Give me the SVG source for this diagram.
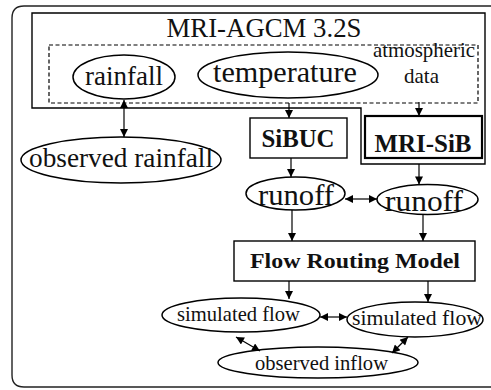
<svg xmlns="http://www.w3.org/2000/svg" width="491" height="390" viewBox="0 0 491 390" font-family="'Liberation Serif', 'Times New Roman', Times, serif">
  <defs>
    <marker id="ah" viewBox="0 0 10 10" refX="10" refY="5" markerWidth="9" markerHeight="8" markerUnits="userSpaceOnUse" orient="auto-start-reverse">
      <path d="M0,0 L10,5 L0,10 z" fill="#000"/>
    </marker>
    <style>
      text { font-family: 'Liberation Serif', 'Times New Roman', Times, serif; fill: #111; text-anchor: middle; }
      .b { font-weight: bold; }
      .node { fill: #fff; stroke: #000; stroke-width: 1.5; }
      .box { fill: #fff; stroke: #000; stroke-width: 1.4; }
      .edge { stroke: #000; stroke-width: 1.2; fill: none; marker-end: url(#ah); }
      .both { marker-start: url(#ah); }
    </style>
  </defs>

  <rect width="491" height="390" fill="#fff"/>

  <!-- outer frame -->
  <path d="M500,6 L24,6 Q12,6 12,18 L12,375 Q12,387 24,387 L500,387" fill="none" stroke="#222" stroke-width="1.4"/>

  <!-- MRI-AGCM 3.2S model domain with the MRI-SiB notch -->
  <g id="mri-agcm">
    <path d="M32,13 L485,13 L485,164 L361,164 L361,108 L32,108 Z" class="box"/>
    <text x="264" y="37" font-size="26.5" textLength="195" lengthAdjust="spacingAndGlyphs">MRI-AGCM 3.2S</text>
    <rect x="49" y="45" width="429" height="58" fill="none" stroke="#000" stroke-width="1.2" stroke-dasharray="4,2.5"/>
    <text x="424" y="57" font-size="21" textLength="102" lengthAdjust="spacingAndGlyphs">atmospheric</text>
    <text x="421.5" y="83" font-size="21">data</text>
  </g>

  <g id="rainfall">
    <ellipse cx="124" cy="77" rx="51" ry="22" class="node"/>
    <text x="124" y="84.5" font-size="27" textLength="78" lengthAdjust="spacingAndGlyphs">rainfall</text>
  </g>

  <g id="temperature">
    <ellipse cx="288" cy="75" rx="90" ry="23" class="node"/>
    <text x="285" y="82" font-size="29.5" textLength="144" lengthAdjust="spacingAndGlyphs">temperature</text>
  </g>

  <g id="observed-rainfall">
    <ellipse cx="121" cy="160" rx="100" ry="23" class="node"/>
    <text x="121" y="167" font-size="27.3" textLength="184" lengthAdjust="spacingAndGlyphs">observed rainfall</text>
  </g>

  <g id="sibuc">
    <rect x="250" y="118" width="97" height="40" class="box"/>
    <text x="298" y="147" font-size="24.5" class="b" textLength="73" lengthAdjust="spacingAndGlyphs">SiBUC</text>
  </g>

  <g id="mri-sib">
    <rect x="365" y="116" width="117" height="42" fill="#fff" stroke="#000" stroke-width="2.2"/>
    <text x="423" y="152" font-size="25" class="b" textLength="97" lengthAdjust="spacingAndGlyphs">MRI-SiB</text>
  </g>

  <g id="runoff-sibuc">
    <ellipse cx="295.5" cy="193.5" rx="49.5" ry="16.5" class="node"/>
    <text x="296" y="205" font-size="29" textLength="76" lengthAdjust="spacingAndGlyphs">runoff</text>
  </g>

  <g id="runoff-mrisib">
    <ellipse cx="427.5" cy="199.5" rx="50.5" ry="15" class="node"/>
    <text x="424" y="211" font-size="29" textLength="78" lengthAdjust="spacingAndGlyphs">runoff</text>
  </g>

  <g id="flow-routing-model">
    <rect x="234" y="241" width="241" height="40" class="box"/>
    <text x="355" y="268" font-size="22" class="b" textLength="210" lengthAdjust="spacingAndGlyphs">Flow Routing Model</text>
  </g>

  <g id="simulated-flow-sibuc">
    <ellipse cx="241" cy="315" rx="79" ry="17" class="node"/>
    <text x="238.5" y="320.5" font-size="20.6" textLength="123" lengthAdjust="spacingAndGlyphs">simulated flow</text>
  </g>

  <g id="simulated-flow-mrisib">
    <ellipse cx="415" cy="319.5" rx="68" ry="17.5" class="node"/>
    <text x="417" y="325" font-size="21.5" textLength="130" lengthAdjust="spacingAndGlyphs">simulated flow</text>
  </g>

  <g id="observed-inflow">
    <ellipse cx="318" cy="362.5" rx="100" ry="15.5" class="node"/>
    <text x="321.5" y="369.5" font-size="20.5" textLength="133" lengthAdjust="spacingAndGlyphs">observed inflow</text>
  </g>

  <!-- connectors -->
  <g id="connectors">
    <line x1="124" y1="100" x2="124" y2="137" class="edge both"/>
    <line x1="289" y1="103" x2="289" y2="118" class="edge"/>
    <line x1="419" y1="102" x2="419" y2="116" class="edge"/>
    <line x1="291" y1="158" x2="291" y2="177" class="edge"/>
    <line x1="419" y1="164" x2="419" y2="184.5" class="edge"/>
    <line x1="345" y1="199" x2="377" y2="199" class="edge both"/>
    <line x1="292" y1="210" x2="292" y2="241" class="edge"/>
    <line x1="423" y1="214.5" x2="423" y2="241" class="edge"/>
    <line x1="289" y1="281" x2="289" y2="299" class="edge"/>
    <line x1="428" y1="281" x2="428" y2="302" class="edge"/>
    <line x1="320" y1="317" x2="347" y2="317" class="edge both"/>
    <line x1="236" y1="337" x2="260" y2="351" class="edge both"/>
    <line x1="408" y1="337" x2="392" y2="353" class="edge both"/>
  </g>
</svg>
